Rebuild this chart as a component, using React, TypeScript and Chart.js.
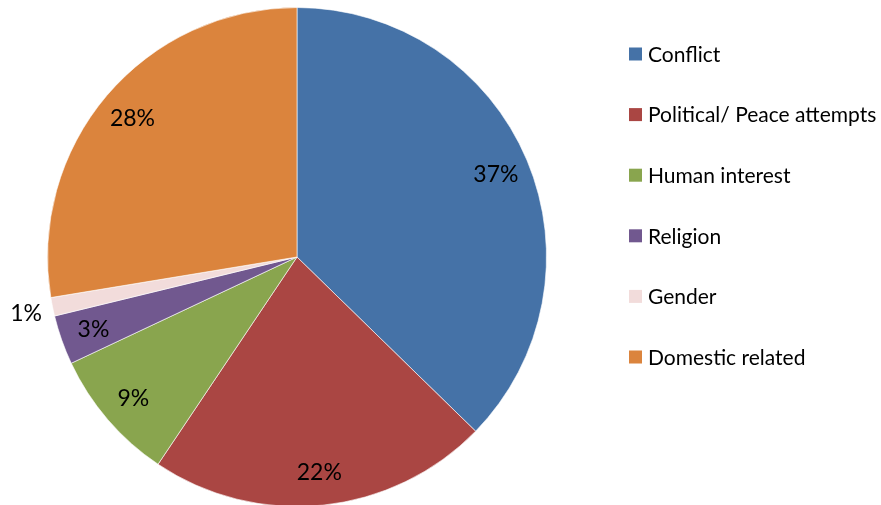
import React, { useEffect, useRef } from "react";
import { Chart, registerables } from "chart.js";

Chart.register(...registerables);

const categories = [
  "Conflict",
  "Political/ Peace attempts",
  "Human interest",
  "Religion",
  "Gender",
  "Domestic related",
];
const shares = [37.3, 22.1, 8.6, 3.2, 1.2, 27.6];
const colors = ["#4572A7", "#AA4643", "#89A54E", "#71588F", "#F2DCDB", "#DB843D"];

const FONT = "Lato, 'Open Sans', sans-serif";

const labelPlugin = {
  id: "sliceLabels",
  afterDatasetsDraw(chart: any) {
    const ctx = chart.ctx;
    const meta = chart.getDatasetMeta(0);
    const data = chart.data.datasets[0].data as number[];
    const total = data.reduce((a, b) => a + b, 0);
    ctx.save();
    ctx.fillStyle = "#000";
    ctx.font = `23px ${FONT}`;
    ctx.textAlign = "center";
    ctx.textBaseline = "middle";
    meta.data.forEach((arc: any, i: number) => {
      const pct = (data[i] / total) * 100;
      const mid = (arc.startAngle + arc.endAngle) / 2;
      const r = pct < 2 ? arc.outerRadius + 27 : arc.outerRadius * 0.865;
      const x = arc.x + Math.cos(mid) * r;
      const y = arc.y + Math.sin(mid) * r;
      ctx.fillText(Math.round(pct) + "%", x, y + 1);
    });
    ctx.restore();
  },
};

const legendPlugin = {
  id: "customLegend",
  afterDraw(chart: any) {
    const ctx = chart.ctx;
    const labels = chart.data.labels as string[];
    const bg = chart.data.datasets[0].backgroundColor as string[];
    ctx.save();
    ctx.font = `21px ${FONT}`;
    ctx.textBaseline = "middle";
    ctx.textAlign = "left";
    labels.forEach((lab, i) => {
      const y = 54 + i * 60.6;
      ctx.fillStyle = bg[i];
      ctx.fillRect(629, y - 6.5, 13, 13);
      ctx.fillStyle = "#000";
      ctx.fillText(lab, 648, y + 1);
    });
    ctx.restore();
  },
};

export default function App() {
  const ref = useRef<HTMLCanvasElement>(null);
  useEffect(() => {
    if (!ref.current) return;
    const chart = new Chart(ref.current, {
      type: "pie",
      data: {
        labels: categories,
        datasets: [
          {
            data: shares,
            backgroundColor: colors,
            borderColor: "rgba(255,255,255,0.6)",
            borderWidth: 1,
          },
        ],
      },
      options: {
        responsive: false,
        animation: false,
        layout: { padding: { left: 47, top: 7, right: 334, bottom: 7 } },
        plugins: {
          legend: { display: false },
          tooltip: { enabled: false },
        },
      },
      plugins: [labelPlugin, legendPlugin],
    });
    return () => chart.destroy();
  }, []);
  return (
    <div style={{ position: "absolute", left: 0, top: 0, width: 881, height: 514, background: "#fff" }}>
      <canvas ref={ref} width={881} height={514} style={{ width: 881, height: 514 }} />
    </div>
  );
}
